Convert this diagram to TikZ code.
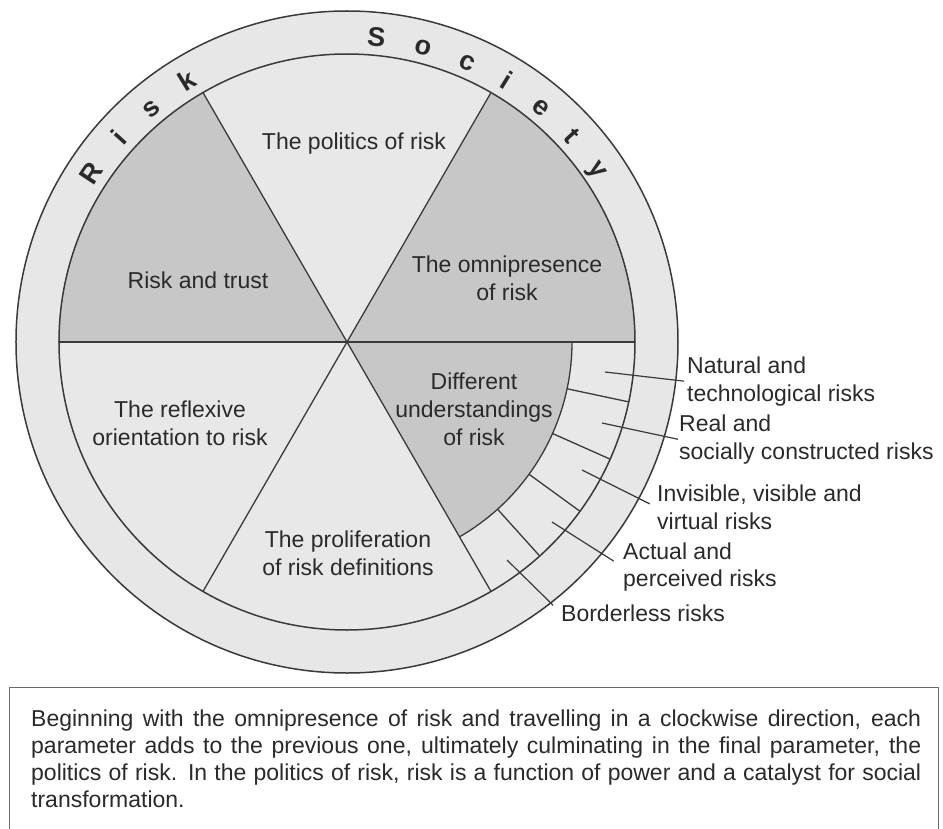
\documentclass[tikz,border=0pt]{standalone}
\usepackage{fontspec}
\setmainfont{Liberation Sans}
\definecolor{ringfill}{HTML}{E7E7E7}
\definecolor{sectlight}{HTML}{E8E8E8}
\definecolor{sectdark}{HTML}{C7C7C7}
\definecolor{inkline}{HTML}{3A3A3A}
\definecolor{inktext}{HTML}{2A2A2A}
\definecolor{boxline}{HTML}{6A6A6A}
\begin{document}
\begin{tikzpicture}[x=1pt,y=1pt,line join=round,
  rim/.style={draw=inkline,line width=1.5pt},
  divider/.style={draw=inkline,line width=1.3pt},
  pointer/.style={draw=inkline,line width=1.2pt},
  sectortext/.style={font=\fontsize{23}{28}\selectfont,align=center,text=inktext,inner sep=0pt},
  labeltext/.style={font=\fontsize{23}{27.5}\selectfont,align=left,anchor=west,text=inktext,inner sep=0pt},
  ringletter/.style={font=\bfseries\fontsize{27}{27}\selectfont,anchor=base,text=inktext,inner sep=0pt},
  boxtext/.style={font=\fontsize{23}{27}\selectfont,anchor=base west,text=inktext,inner sep=0pt},
  notebox/.style={draw=boxline,line width=1.4pt,fill=white,anchor=north west,inner sep=0pt}]
\useasboundingbox (-347,-486) rectangle (596,342);
\fill[white] (-347,-486) rectangle (596,342);
% outer ring and sectors
\draw[rim,fill=ringfill] (0,0) circle (331);
\fill[sectlight] (0,0) circle (288);
\fill[sectdark] (0,0) -- (0:288) arc (0:60:288) -- cycle;
\fill[sectdark] (0,0) -- (120:288) arc (120:180:288) -- cycle;
\fill[sectdark] (0,0) -- (0:225) arc (0:-60:225) -- cycle;
\draw[divider,line width=1.6pt] (180:288) -- (0:288);
\draw[divider] (60:288) -- (240:288);
\draw[divider] (120:288) -- (300:288);
\draw[divider] (0:225) arc (0:-60:225);
\foreach \a in {-12,-24,-36,-48} \draw[divider] (\a:225) -- (\a:288);
\draw[rim] (0,0) circle (288);
% Risk Society lettering
\foreach \l/\a [count=\i] in {R/146.5,i/138,s/130,k/121.5,S/84.5,o/75.5,c/66.8,i/58.5,e/50.5,t/42.5,y/34.5}
  \node[ringletter,rotate=\a-90] (rl\i) at (\a:297) {\l};
% sector texts
\node[sectortext] (politics) at (7,198) {The politics of risk};
\node[sectortext] (trust) at (-149,62) {Risk and trust};
\node[sectortext] (omni) at (160,64) {The omnipresence\\of risk};
\node[sectortext] (diff) at (127,-67) {Different\\understandings\\of risk};
\node[sectortext] (reflex) at (-167,-81) {The reflexive\\orientation to risk};
\node[sectortext] (prolif) at (1,-211) {The proliferation\\of risk definitions};
% outer labels
\node[labeltext] (lab1) at (340,-39.5) {Natural and\\technological risks};
\node[labeltext] (lab2) at (332,-97.5) {Real and\\socially constructed risks};
\node[labeltext] (lab3) at (310,-165.5) {Invisible, visible and\\virtual risks};
\node[labeltext] (lab4) at (276,-225) {Actual and\\perceived risks};
\node[labeltext] (lab5) at (214,-271) {Borderless risks};
\coordinate (s1) at (258,-30);
\coordinate (s2) at (255,-81);
\coordinate (s3) at (235,-128);
\coordinate (s4) at (205,-180);
\coordinate (s5) at (160,-218);
\draw[pointer,shorten >=3pt] (s1) -- (lab1.west);
\draw[pointer,shorten >=1pt] (s2) -- (lab2.west);
\draw[pointer,shorten >=8pt] (s3) -- (lab3.west);
\draw[pointer,shorten >=11pt] (s4) -- (lab4.west);
\draw[pointer,shorten >=11pt] (s5) -- (lab5.west);
% note box
\node[notebox,minimum width=929pt,minimum height=142pt] (note) at (-338,-345) {};
\node[boxtext] (n1) at (-316,-384) {\makebox[890pt][s]{Beginning with the omnipresence of risk and travelling in a clockwise direction, each}};
\node[boxtext] (n2) at (-316,-411) {\makebox[890pt][s]{parameter adds to the previous one, ultimately culminating in the final parameter, the}};
\node[boxtext] (n3) at (-316,-438) {\makebox[890pt][s]{politics of risk. In the politics of risk, risk is a function of power and a catalyst for social}};
\node[boxtext] (n4) at (-316,-465) {transformation.};
\end{tikzpicture}
\end{document}
